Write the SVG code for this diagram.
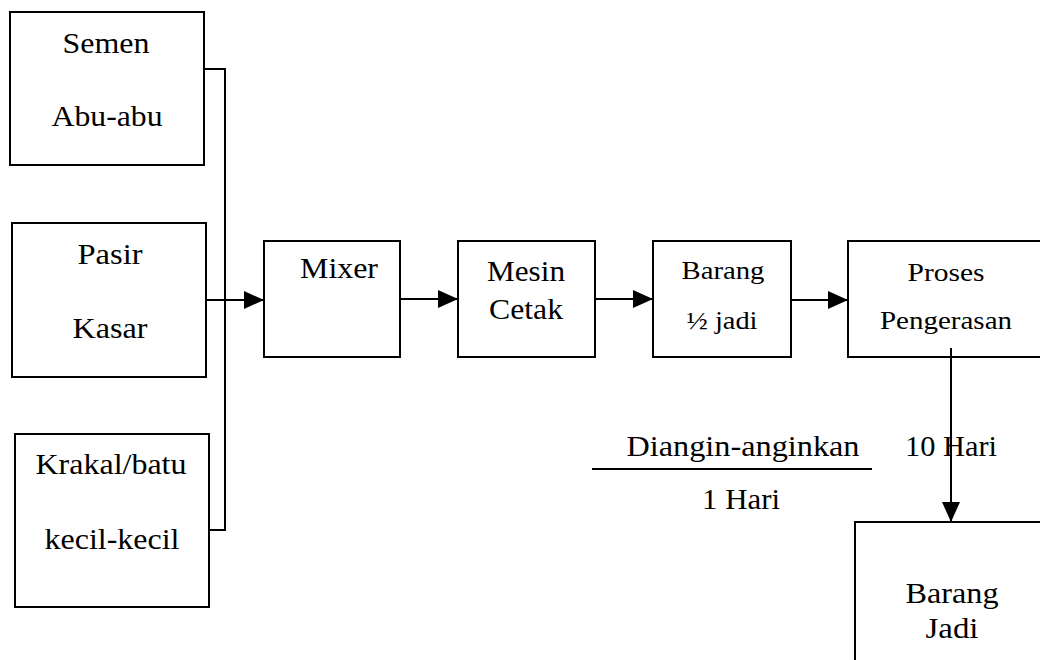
<svg xmlns="http://www.w3.org/2000/svg" width="1040" height="660" viewBox="0 0 1040 660">
<style>
.box{fill:#fff;stroke:#000;stroke-width:2}
.ln{fill:none;stroke:#000;stroke-width:2}
.t{font-family:"Liberation Serif","Times New Roman",serif;font-size:29px;fill:#000;text-anchor:middle}
.s{font-size:26px}
</style>
<defs>
<marker id="ah" markerUnits="userSpaceOnUse" markerWidth="20" markerHeight="18" refX="20" refY="9" orient="auto">
<path d="M0,0 L20,9 L0,18 z" fill="#000"/>
</marker>
</defs>
<rect width="1040" height="660" fill="#fff"/>
<g id="semen">
<rect class="box" x="10" y="12" width="194" height="153"/>
<text class="t" x="106" y="53" textLength="87" lengthAdjust="spacingAndGlyphs">Semen</text>
<text class="t" x="107" y="126" textLength="111" lengthAdjust="spacingAndGlyphs">Abu-abu</text>
</g>
<g id="pasir">
<rect class="box" x="12" y="223" width="194" height="154"/>
<text class="t" x="110" y="264" textLength="65" lengthAdjust="spacingAndGlyphs">Pasir</text>
<text class="t" x="110" y="338" textLength="75" lengthAdjust="spacingAndGlyphs">Kasar</text>
</g>
<g id="krakal">
<rect class="box" x="15" y="434" width="194" height="173"/>
<text class="t" x="111" y="474" textLength="151" lengthAdjust="spacingAndGlyphs">Krakal/batu</text>
<text class="t" x="112" y="549" textLength="135" lengthAdjust="spacingAndGlyphs">kecil-kecil</text>
</g>
<g id="mixer">
<rect class="box" x="264" y="241" width="136" height="116"/>
<text class="t" x="339" y="278" textLength="78" lengthAdjust="spacingAndGlyphs">Mixer</text>
</g>
<g id="mesin">
<rect class="box" x="458" y="241" width="137" height="116"/>
<text class="t" x="526" y="281" textLength="78" lengthAdjust="spacingAndGlyphs">Mesin</text>
<text class="t" x="526" y="319" textLength="74" lengthAdjust="spacingAndGlyphs">Cetak</text>
</g>
<g id="barang-setengah">
<rect class="box" x="653" y="241" width="138" height="116"/>
<text class="t s" x="723" y="279" textLength="83" lengthAdjust="spacingAndGlyphs">Barang</text>
<text class="t s" x="722" y="329" textLength="71" lengthAdjust="spacingAndGlyphs">½ jadi</text>
</g>
<g id="proses">
<rect class="box" x="848" y="241" width="200" height="116"/>
<text class="t s" x="946" y="281" textLength="77" lengthAdjust="spacingAndGlyphs">Proses</text>
<text class="t s" x="946" y="329" textLength="132" lengthAdjust="spacingAndGlyphs">Pengerasan</text>
</g>
<g id="labels">
<text class="t" x="743" y="456" textLength="233" lengthAdjust="spacingAndGlyphs">Diangin-anginkan</text>
<text class="t" x="741" y="509" textLength="78" lengthAdjust="spacingAndGlyphs">1 Hari</text>
<text class="t" x="951" y="456" textLength="92" lengthAdjust="spacingAndGlyphs">10 Hari</text>
</g>
<g id="barang-jadi">
<rect class="box" x="855" y="522" width="200" height="150"/>
<text class="t" x="952" y="603" textLength="93" lengthAdjust="spacingAndGlyphs">Barang</text>
<text class="t" x="952" y="638" textLength="53" lengthAdjust="spacingAndGlyphs">Jadi</text>
</g>
<g id="connectors">
<path class="ln" d="M204,69 H225 V530 H209"/>
<path class="ln" d="M206,300 H264" marker-end="url(#ah)"/>
<path class="ln" d="M400,299 H458" marker-end="url(#ah)"/>
<path class="ln" d="M595,299 H653" marker-end="url(#ah)"/>
<path class="ln" d="M791,300 H848" marker-end="url(#ah)"/>
<path class="ln" d="M951,348 V522" marker-end="url(#ah)"/>
<path class="ln" d="M592,469 H872"/>
</g>
</svg>
